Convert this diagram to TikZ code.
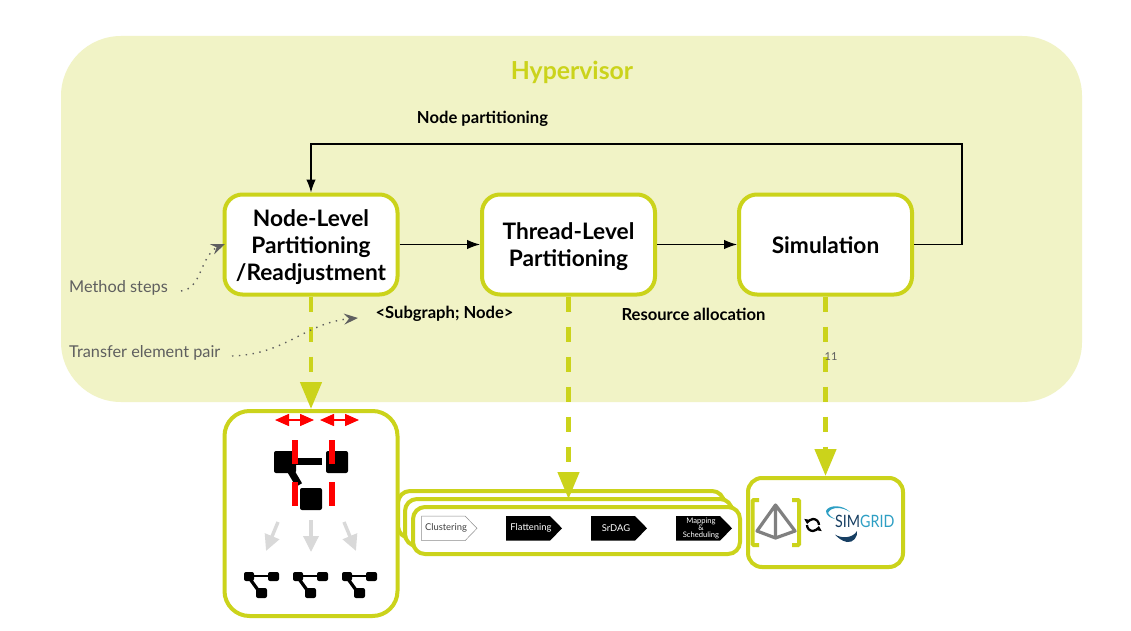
\documentclass[tikz,border=0pt]{standalone}
\usepackage{fontspec}
\usepackage{graphicx}
\setmainfont{Lato}
\usetikzlibrary{arrows.meta,calc,bending}
\definecolor{lime}{HTML}{CBD31B}
\definecolor{hyperbg}{HTML}{F1F3C6}
\definecolor{notegray}{HTML}{5F5F5F}
\definecolor{ghost}{HTML}{D9D9D9}
\definecolor{pyr}{HTML}{808080}
\definecolor{simnavy}{HTML}{173F63}
\definecolor{simteal}{HTML}{2E9FC4}
\tikzset{
  stepbox/.style={draw=lime,line width=4pt,fill=white,rounded corners=18pt,minimum width=173pt,minimum height=100pt,align=center,inner sep=0pt,font=\fontsize{22.7}{27}\selectfont\bfseries},
  holder/.style={draw=lime,line width=4pt,fill=white},
  flow/.style={-{Latex[length=13pt,width=9.5pt]},line width=1.1pt,black},
  transfer/.style={draw=lime,line width=4.5pt,dash pattern=on 15pt off 15pt,-{Triangle[length=27pt,width=21pt]}},
  label/.style={font=\fontsize{16.6}{19}\selectfont\bfseries,inner sep=0pt},
  note/.style={font=\fontsize{16.3}{19}\selectfont,text=notegray,inner sep=0pt,anchor=west},
  pointer/.style={notegray,line width=1.4pt,dash pattern=on 1.4pt off 5.5pt,-{Stealth[length=14pt,width=11pt,inset=5pt]}},
  redmove/.style={red,line width=1.5pt,{Triangle[length=14pt,width=12pt]}-{Triangle[length=14pt,width=12pt]}},
  redcut/.style={fill=red,draw=none},
  sqr/.style={fill=black,draw=none,rounded corners=2pt},
  grayarrow/.style={ghost,line width=3.4pt,-{Triangle[length=16pt,width=15pt]}},
  chev/.style={font=\fontsize{9.4}{9.4}\selectfont,inner sep=0pt},
  sync/.style={black,line width=2.3pt,-{Triangle[length=4.5pt,width=7pt,flex=0]}},
}
\begin{document}
\begin{tikzpicture}[x=1pt,y=-1pt]
\useasboundingbox (0,0) rectangle (1131,631);
\fill[white] (0,0) rectangle (1131,631);
% hypervisor
\fill[hyperbg,rounded corners=60pt] (61,36) rectangle (1082,402);
\node[font=\fontsize{24.8}{28}\selectfont\bfseries,text=lime] (hyp) at (572,72) {Hypervisor};
% step boxes
\node[stepbox] (nl) at (311,244.5) {\raisebox{-4pt}[\height][\depth]{\begin{tabular}{@{}c@{}}Node-Level\\[0pt]Partitioning\\[0pt]/Readjustment\end{tabular}}};
\node[stepbox] (tl) at (568.5,244.5) {\raisebox{-3.5pt}[\height][\depth]{\begin{tabular}{@{}c@{}}Thread-Level\\[0pt]Partitioning\end{tabular}}};
\node[stepbox] (sim) at (825.5,244.5) {\raisebox{-1pt}[\height][\depth]{Simulation}};
% lower holders
\node[holder,rounded corners=25pt,minimum width=173pt,minimum height=205pt] (gbox) at (311,513.5) {};
\coordinate (c1) at (568.5,499);
% stacked
\draw[holder,rounded corners=12pt] (398,491) rectangle (724,538);
\fill[black] (490,499.6) rectangle (535,501) (574,499.6) rectangle (620,501) (659,499.6) rectangle (704,501);
\draw[holder,rounded corners=12pt] (405,499) rectangle (732,546);
\fill[black] (498,507.6) rectangle (543,509) (582,507.6) rectangle (628,509) (667,507.6) rectangle (712,509);
\node[holder,rounded corners=12pt,minimum width=327pt,minimum height=47pt] (front) at (576.5,530.5) {};
% chevrons
\draw[fill=white,draw=black!45,line width=.5pt] (421.7,516) -- (465,516) -- (477,528.3) -- (465,540.7) -- (421.7,540.7) -- cycle;
\node[chev,text=black!75] (cl) at (446,528.3) {Clustering};
\foreach \x/\n/\t in {506/fl/Flattening,591/sr/SrDAG}{
  \fill[black] (\x,516) -- (\x+44,516) -- (\x+56,528.3) -- (\x+44,540.7) -- (\x,540.7) -- cycle;
  \node[chev,text=white] (\n) at (\x+25,528.3) {\t};
}
\fill[black] (676,516) -- (720,516) -- (732,528.3) -- (720,540.7) -- (676,540.7) -- cycle;
\node[chev,text=white,align=center,font=\fontsize{7.6}{7.3}\selectfont] (mp) at (701,528.3) {Mapping\\\&\\Scheduling};
% sim holder
\node[holder,rounded corners=14pt,minimum width=155pt,minimum height=89pt] (rbox) at (825.5,522.5) {};
% flows
\draw[flow] (nl) -- (tl);
\draw[flow] (tl) -- (sim);
\draw[flow] (sim.east) -- (962,244.5) -- (962,144) -- (311,144) -- (nl.north);
% transfers
\draw[transfer] (nl.south) -- (gbox.north);
\draw[transfer] (tl.south) -- (c1);
\draw[transfer] (sim.south) -- (rbox.north);
% labels
\node[label] (np) at (482.5,119) {Node partitioning};
\node[label] (sn) at (444.5,314) {<Subgraph; Node>};
\node[label] (ra) at (693.5,314) {Resource allocation};
\node[font=\fontsize{11}{13}\selectfont,text=notegray,inner sep=0pt] (eleven) at (831,357) {11};
\node[note] (ms) at (69,287.5) {Method steps};
\node[note] (te) at (69,352.5) {Transfer element pair};
\coordinate (msend) at (181,291);
\coordinate (msto) at (225,244);
\coordinate (teend) at (232,356);
\coordinate (teto) at (358,318);
\draw[pointer] (msend) .. controls (205,288) and (198,250) .. (msto);
\draw[pointer] (teend) .. controls (290,354) and (305,320) .. (teto);
% partition icon
\fill[black] (285,458) rectangle (322,465);
\draw[black,line width=7pt] (289,468) -- (299,485);
\fill[sqr] (274,451) rectangle (296,473);
\fill[sqr] (326,451) rectangle (348,473);
\fill[sqr] (300,488) rectangle (322,510);
\foreach \a/\b in {292/440,329/440,292/482,329/482}{\fill[redcut] (\a,\b) rectangle (\a+6,\b+24);}
\coordinate (ra1) at (275,420); \coordinate (ra2) at (314,420);
\coordinate (rb1) at (320,420); \coordinate (rb2) at (359,420);
\draw[redmove] (ra1) -- (ra2);
\draw[redmove] (rb1) -- (rb2);
\coordinate (ga1) at (278,522); \coordinate (ga2) at (266,551);
\coordinate (gb1) at (311,520); \coordinate (gb2) at (311,552);
\coordinate (gc1) at (344,522); \coordinate (gc2) at (356,551);
\draw[grayarrow] (ga1) -- (ga2);
\draw[grayarrow] (gb1) -- (gb2);
\draw[grayarrow] (gc1) -- (gc2);
\foreach \o in {0,49,98}{
\begin{scope}[shift={(\o,0)}]
  \fill[black] (250,574.5) rectangle (269,577);
  \draw[black,line width=3.2pt] (250,579) -- (258,590);
  \fill[sqr] (244,572) rectangle (254,581);
  \fill[sqr] (268,572) rectangle (279,581);
  \fill[sqr] (256,588) rectangle (267,598);
\end{scope}}
% pyramid with brackets
\draw[lime,line width=4pt,rounded corners=1pt] (759,500) -- (752.7,500) -- (752.7,545) -- (759,545);
\draw[lime,line width=4pt,rounded corners=1pt] (792,500) -- (799,500) -- (799,545) -- (792,545);
\draw[pyr,line width=3.2pt,line join=round] (775.5,505) -- (757,531) -- (775.5,538) -- (795,531) -- cycle (775.5,505) -- (775.5,538);
% sync icon
\draw[sync] (807,525) arc[start angle=180,end angle=350,radius=6pt];
\draw[sync] (819,525) arc[start angle=0,end angle=170,radius=6pt];
% simgrid logo
\node[inner sep=0pt,anchor=west,font=\fontsize{17}{18}\selectfont] (logo) at (835,521) {\scalebox{0.84}[1]{\textcolor{simnavy}{SIM}\textcolor{simteal}{GRID}}};
\fill[simteal] (826,511) .. controls (828,505) and (842,504) .. (850,512) .. controls (843,507) and (831,506) .. (828,513) .. controls (829,516) and (832,517) .. (835,519) .. controls (830,518) and (826,515) .. (826,511) -- cycle;
\fill[simnavy] (835,534.5) .. controls (842,539) and (853,538) .. (857,531) .. controls (858,537) and (853,543) .. (847,542) .. controls (842,541) and (838,538) .. (835,534.5) -- cycle;
\end{tikzpicture}
\end{document}
